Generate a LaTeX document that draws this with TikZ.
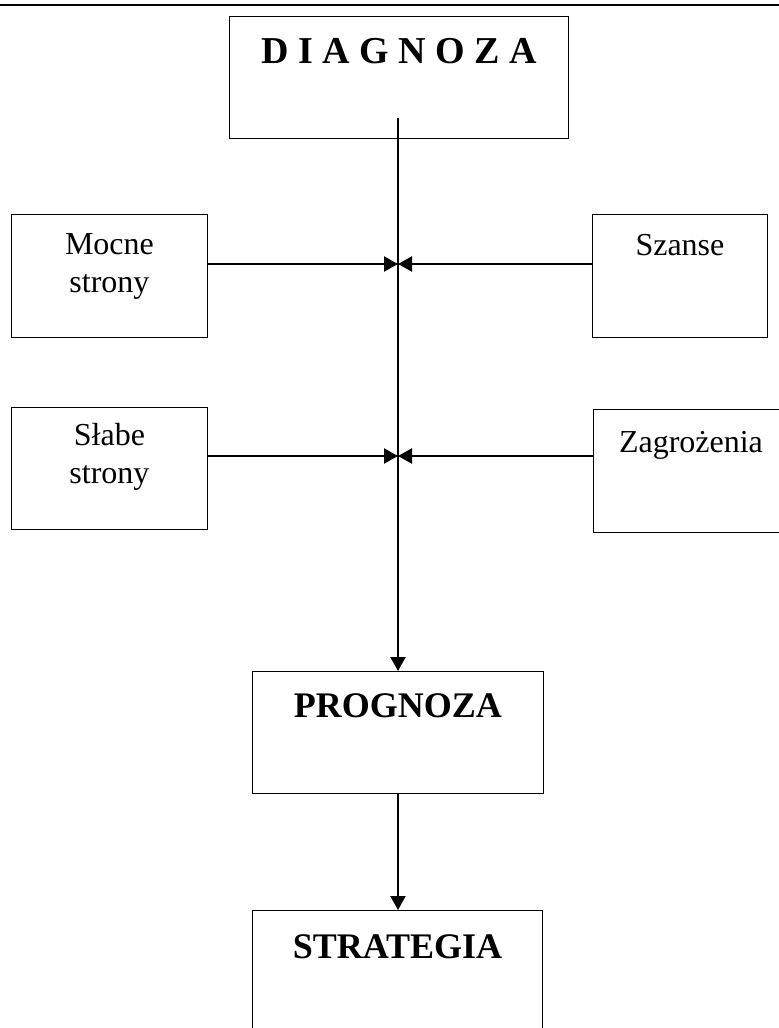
\documentclass[tikz,border=0pt]{standalone}
\usepackage{fontspec}
\setmainfont{Liberation Serif}
\usetikzlibrary{arrows.meta}

\begin{document}
\begin{tikzpicture}[x=1pt, y=1pt,
  box/.style={draw, line width=0.9pt, anchor=north west, inner sep=0pt, align=center},
  small/.style={font=\fontsize{32}{38}\selectfont},
  big/.style={font=\fontsize{36}{40}\selectfont\bfseries},
  flow/.style={line width=2.2pt, -{Triangle[length=14pt,width=15pt]}}]
      \useasboundingbox (0,0) rectangle (779,-1028);
      \clip (0,0) rectangle (779,-1028);
      \draw[line width=1.4pt] (0,-5) -- (779,-5);
      % main column
      \node[box, big, font=\fontsize{38}{40}\selectfont\bfseries, minimum width=339pt, text height=47pt, text depth=75pt] (diag) at (229,-16) {D I A G N O Z A};
      \node[box, big, minimum width=291pt, text height=46pt, text depth=76pt] (prog) at (252,-671) {PROGNOZA};
      \node[box, big, minimum width=290pt, text height=48pt, text depth=74pt] (strat) at (252,-910) {STRATEGIA};
      % side boxes
      \node[box, small, minimum width=196pt, text height=78pt, text depth=45pt] (mocne) at (11,-214) {Mocne\\strony};
      \node[box, small, minimum width=175pt, text height=41pt, text depth=82pt] (szanse) at (592,-214) {Szanse};
      \node[box, small, minimum width=196pt, text height=76pt, text depth=46pt] (slabe) at (11,-407) {Słabe\\strony};
      \node[box, small, minimum width=195pt, text height=43pt, text depth=80pt] (zagr) at (593,-409) {Zagrożenia};
      \coordinate (start) at (398,-118);
      \coordinate (j1) at (398,-264);
      \coordinate (j2) at (398,-456);
      \draw[flow] (start) -- (prog.north -| start);
      \draw[flow] (mocne.east |- j1) -- (j1);
      \draw[flow] (szanse.west |- j1) -- (j1);
      \draw[flow] (slabe.east |- j2) -- (j2);
      \draw[flow] (zagr.west |- j2) -- (j2);
      \draw[flow] (prog.south -| start) -- (strat.north -| start);
    \end{tikzpicture}
\end{document}
